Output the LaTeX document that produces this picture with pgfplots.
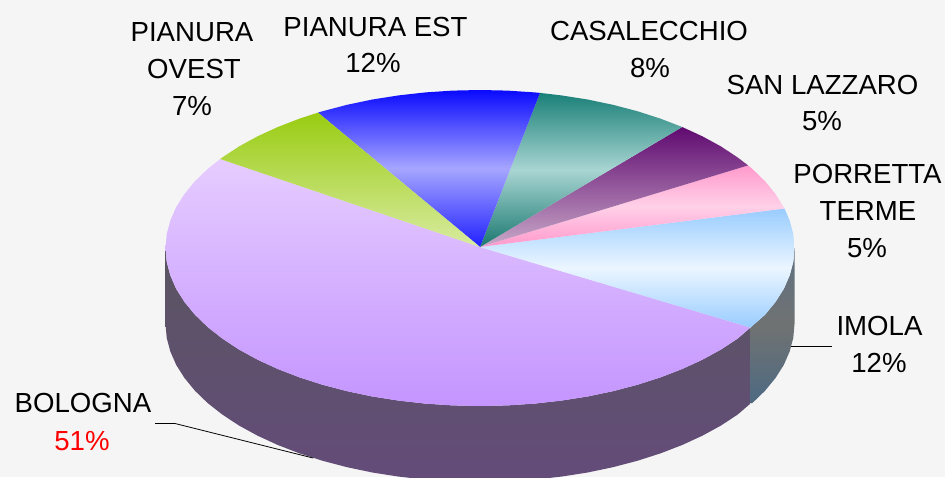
\documentclass[border=0pt]{standalone}
\usepackage{fontspec}
\setmainfont{Liberation Sans}
\usepackage{pgfplots}
\pgfplotsset{compat=1.18}
\definecolor{bgc}{HTML}{F5F5F5}
\begin{document}
\begin{tikzpicture}[x=1pt,y=1pt]
\fill[bgc] (0,0) rectangle (945,477);
\path[use as bounding box] (0,0) rectangle (945,477);
\begin{axis}[at={(0,0)},anchor=south west,scale only axis,width=945pt,height=477pt,
  xmin=0,xmax=945,ymin=0,ymax=477,y dir=reverse,hide axis,clip=true]
% side walls
\addplot[draw=none,top color={rgb,255:red,90;green,85;blue,97},bottom color={rgb,255:red,100;green,76;blue,122}] coordinates {
(165.5,248)(166.7,261.8)(170.3,275.4)(176.2,288.9)(184.5,302)(195,314.8)(207.6,327)(222.4,338.6)(239.1,349.6)(257.6,359.7)(277.8,369)(299.6,377.4)(322.7,384.8)(347.1,391.2)(372.4,396.5)(398.6,400.6)(425.4,403.6)(452.6,405.4)(480,406)(507.4,405.4)(534.6,403.6)(561.4,400.6)(587.6,396.5)(612.9,391.2)(637.3,384.8)(660.4,377.4)(682.2,369)(702.4,359.7)(720.9,349.6)(737.6,338.6)(750.5,327.5)
(750.5,403.5)(737.6,414.6)(720.9,425.6)(702.4,435.7)(682.2,445)(660.4,453.4)(637.3,460.8)(612.9,467.2)(587.6,472.5)(561.4,476.6)(534.6,479.6)(507.4,481.4)(480,482)(452.6,481.4)(425.4,479.6)(398.6,476.6)(372.4,472.5)(347.1,467.2)(322.7,460.8)(299.6,453.4)(277.8,445)(257.6,435.7)(239.1,425.6)(222.4,414.6)(207.6,403)(195,390.8)(184.5,378)(176.2,364.9)(170.3,351.4)(166.7,337.8)(165.5,324)
} -- cycle;
\addplot[draw=none,top color={rgb,255:red,95;green,112;blue,130},bottom color={rgb,255:red,77;green,106;blue,130},middle color={rgb,255:red,112;green,114;blue,114}] coordinates {
(750.5,327.5)(765,314.8)(775.5,302)(783.8,288.9)(789.7,275.4)(793.3,261.8)(794.5,248)
(794.5,324)(793.3,337.8)(789.7,351.4)(783.8,364.9)(775.5,378)(765,390.8)(752.4,403)(750.5,403.5)
} -- cycle;
% BOLOGNA
\addplot[draw=none,top color={rgb,255:red,230;green,204;blue,255},bottom color={rgb,255:red,196;green,149;blue,255}] coordinates {
(480,247)(750.5,327.5)(737.6,338.6)(720.9,349.6)(702.4,359.7)(682.2,369)(660.4,377.4)(637.3,384.8)(612.9,391.2)(587.6,396.5)(561.4,400.6)(534.6,403.6)(507.4,405.4)(480,406)(452.6,405.4)(425.4,403.6)(398.6,400.6)(372.4,396.5)(347.1,391.2)(322.7,384.8)(299.6,377.4)(277.8,369)(257.6,359.7)(239.1,349.6)(222.4,338.6)(207.6,327)(195,314.8)(184.5,302)(176.2,288.9)(170.3,275.4)(166.7,261.8)(165.5,248)(166.7,234.2)(170.3,220.6)(176.2,207.1)(184.5,194)(195,181.2)(207.6,169)(220.2,159)
} -- cycle;
% IMOLA
\addplot[draw=none,top color={rgb,255:red,153;green,204;blue,255},bottom color={rgb,255:red,153;green,204;blue,255},middle color={rgb,255:red,235;green,246;blue,255}] coordinates {
(480,247)(784.5,208.5)(789.7,220.6)(793.3,234.2)(794.5,248)(793.3,261.8)(789.7,275.4)(783.8,288.9)(775.5,302)(765,314.8)(750.5,327.5)
} -- cycle;
% PORRETTA TERME
\addplot[draw=none,top color={rgb,255:red,255;green,153;blue,204},bottom color={rgb,255:red,255;green,153;blue,204},middle color={rgb,255:red,255;green,208;blue,232}] coordinates {
(480,247)(748.1,165.4)(752.4,169)(765,181.2)(775.5,194)(784.5,208.5)
} -- cycle;
% SAN LAZZARO
\addplot[draw=none,top color={rgb,255:red,96;green,10;blue,112},bottom color={rgb,255:red,200;green,168;blue,200}] coordinates {
(480,247)(682.2,127)(702.4,136.3)(720.9,146.4)(737.6,157.4)(748.1,165.4)
} -- cycle;
% CASALECCHIO
\addplot[draw=none,top color={rgb,255:red,26;green,128;blue,120},bottom color={rgb,255:red,26;green,120;blue,112},middle color={rgb,255:red,168;green,213;blue,210}] coordinates {
(480,247)(540,92.9)(561.4,95.4)(587.6,99.5)(612.9,104.8)(637.3,111.2)(660.4,118.6)(682.2,127)
} -- cycle;
% PIANURA EST
\addplot[draw=none,top color={rgb,255:red,10;green,10;blue,255},bottom color={rgb,255:red,32;green,32;blue,255},middle color={rgb,255:red,166;green,166;blue,255}] coordinates {
(480,247)(318,112.6)(322.7,111.2)(347.1,104.8)(372.4,99.5)(398.6,95.4)(425.4,92.4)(452.6,90.6)(480,90)(507.4,90.6)(534.6,92.4)(540,92.9)
} -- cycle;
% PIANURA OVEST
\addplot[draw=none,top color={rgb,255:red,153;green,204;blue,17},bottom color={rgb,255:red,216;green,235;blue,160}] coordinates {
(480,247)(220.2,159)(222.4,157.4)(239.1,146.4)(257.6,136.3)(277.8,127)(299.6,118.6)(318,112.6)
} -- cycle;
% leader lines
\addplot[black,line width=0.8pt] coordinates {(155,423.5)(175,423.5)(313,458)};
\addplot[black,line width=0.8pt] coordinates {(791,346)(832,346)};
% labels
\tikzset{lab/.style={anchor=base,inner sep=0pt,font=\fontsize{27.6}{37}\selectfont,text=black}}
\node[lab] at (axis cs:192,41.5) {PIANURA};
\node[lab] at (axis cs:194,78) {OVEST};
\node[lab] at (axis cs:192,115) {7\%};
\node[lab] at (axis cs:375.5,36) {PIANURA EST};
\node[lab] at (axis cs:373,72) {12\%};
\node[lab] at (axis cs:649,40) {CASALECCHIO};
\node[lab] at (axis cs:650,77) {8\%};
\node[lab] at (axis cs:822.5,94) {SAN LAZZARO};
\node[lab] at (axis cs:822,130) {5\%};
\node[lab] at (axis cs:867.5,183) {PORRETTA};
\node[lab] at (axis cs:868,220) {TERME};
\node[lab] at (axis cs:867,257) {5\%};
\node[lab] at (axis cs:879.5,335) {IMOLA};
\node[lab] at (axis cs:879,372) {12\%};
\node[lab] at (axis cs:83,412) {BOLOGNA};
\node[lab,text=red] at (axis cs:82,450) {51\%};
\end{axis}
\end{tikzpicture}
\end{document}
